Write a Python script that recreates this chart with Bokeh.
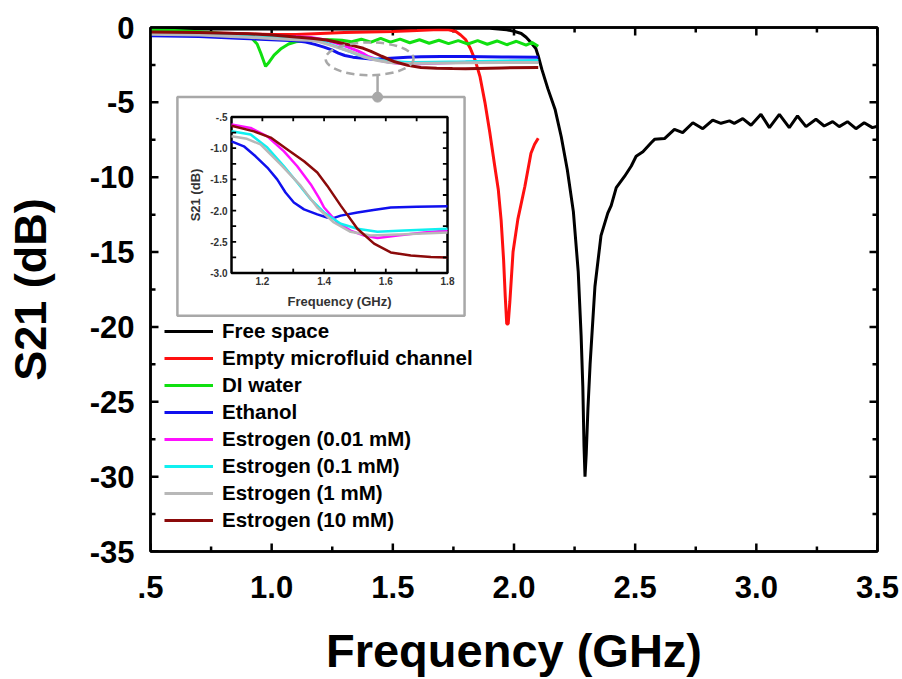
from math import pi
from bokeh.plotting import figure
from bokeh.models import (Range1d, SingleIntervalTicker, LinearAxis, Legend, LegendItem,
                          CustomJSTickFormatter)
from bokeh.embed import file_html
from bokeh.resources import INLINE
from bokeh.core.properties import value

FONT = "Liberation Sans"

# ---------------- data ----------------
series_names = ["Free space", "Empty microfluid channel", "DI water", "Ethanol",
                "Estrogen (0.01 mM)", "Estrogen (0.1 mM)", "Estrogen (1 mM)", "Estrogen (10 mM)"]
series_colors = ["#000000", "#ff1010", "#10e010", "#1010ee", "#ff10ff", "#10f0f0", "#b8b8b8", "#8b0a0a"]

free_f = [0.5, 0.8, 1.1, 1.4, 1.7, 1.9, 1.97, 2.0, 2.03, 2.05, 2.07, 2.09, 2.10, 2.115, 2.14, 2.17,
          2.195, 2.22, 2.245, 2.265, 2.277, 2.284, 2.289, 2.293, 2.298, 2.305, 2.314, 2.334, 2.359,
          2.387, 2.401, 2.422, 2.456, 2.484, 2.504, 2.532, 2.566, 2.58, 2.621, 2.662, 2.696, 2.738,
          2.779, 2.82, 2.854, 2.889, 2.909, 2.944, 2.978, 3.019, 3.054, 3.095, 3.136, 3.17, 3.205,
          3.246, 3.28, 3.315, 3.342, 3.376, 3.411, 3.445, 3.479, 3.5]
free_s = [-0.1, -0.1, -0.1, -0.1, -0.05, -0.05, -0.15, -0.25, -0.4, -0.65, -1.0, -1.4, -1.9, -2.8,
          -4.1, -5.5, -7.3, -9.5, -12.3, -16.3, -20.6, -24.0, -28.0, -30.0, -28.5, -25.5, -22.5,
          -17.3, -13.9, -12.4, -11.9, -10.7, -9.95, -9.25, -8.6, -8.3, -7.7, -7.47, -7.42, -6.8,
          -7.02, -6.36, -6.76, -6.18, -6.4, -6.24, -6.4, -6.09, -6.53, -5.8, -6.69, -5.8, -6.69,
          -5.91, -6.62, -6.13, -6.58, -6.29, -6.62, -6.29, -6.76, -6.36, -6.69, -6.6]

empty_f = [0.5, 0.7, 0.9, 1.0, 1.1, 1.2, 1.3, 1.4, 1.5, 1.6, 1.69, 1.73, 1.76, 1.78, 1.80, 1.82,
           1.84, 1.86, 1.88, 1.90, 1.92, 1.935, 1.947, 1.957, 1.964, 1.97, 1.976, 1.983, 1.996,
           2.016, 2.045, 2.07, 2.085, 2.10]
empty_s = [-0.3, -0.35, -0.42, -0.47, -0.47, -0.4, -0.33, -0.3, -0.27, -0.2, -0.13, -0.15, -0.27,
           -0.5, -0.8, -1.4, -2.2, -3.3, -5.0, -7.0, -9.2, -10.8, -12.9, -15.5, -18.0, -19.8,
           -19.8, -18.3, -15.0, -12.8, -10.6, -8.4, -7.8, -7.4]

water_f = [0.5, 0.6, 0.7, 0.8, 0.88, 0.92, 0.94, 0.955, 0.975, 0.99, 1.01, 1.04, 1.07, 1.1, 1.15,
           1.2, 1.25, 1.29, 1.33, 1.37, 1.41, 1.45, 1.49, 1.53, 1.57, 1.61, 1.65, 1.69, 1.73,
           1.77, 1.81, 1.85, 1.89, 1.93, 1.97, 2.01, 2.05, 2.075, 2.10]
water_s = [-0.15, -0.2, -0.28, -0.4, -0.55, -0.75, -1.1, -1.7, -2.6, -2.3, -1.85, -1.4, -1.1,
           -0.95, -0.85, -0.8, -0.82, -0.85, -0.95, -0.78, -0.98, -0.72, -0.98, -0.78, -1.02,
           -0.82, -1.05, -0.85, -1.08, -0.88, -1.1, -0.88, -1.12, -0.9, -1.15, -0.92, -1.18,
           -1.0, -1.25]

eth_f = [0.5, 0.7, 0.86, 1.0, 1.1, 1.14, 1.178, 1.216, 1.248, 1.275, 1.302, 1.335, 1.378, 1.41,
         1.43, 1.454, 1.508, 1.56, 1.616, 1.7, 1.8, 1.95, 2.1]
eth_s = [-0.55, -0.6, -0.72, -0.82, -0.89, -0.97, -1.13, -1.31, -1.5, -1.71, -1.87, -1.98, -2.06,
         -2.11, -2.12, -2.08, -2.03, -1.99, -1.95, -1.94, -1.93, -1.97, -1.98]

e001_f = [0.5, 0.7, 0.9, 1.0, 1.1, 1.162, 1.216, 1.27, 1.313, 1.357, 1.384, 1.4, 1.443, 1.486,
          1.53, 1.573, 1.638, 1.724, 1.8, 1.95, 2.1]
e001_s = [-0.35, -0.4, -0.5, -0.56, -0.62, -0.675, -0.81, -1.05, -1.29, -1.58, -1.8, -1.95, -2.19,
          -2.32, -2.4, -2.44, -2.4, -2.35, -2.32, -2.27, -2.22]

e01_f = [0.5, 0.7, 0.9, 1.0, 1.1, 1.162, 1.216, 1.27, 1.313, 1.357, 1.4, 1.454, 1.508, 1.573,
         1.66, 1.8, 1.95, 2.1]
e01_s = [-0.4, -0.45, -0.58, -0.65, -0.73, -0.78, -0.99, -1.29, -1.55, -1.82, -2.03, -2.21, -2.29,
         -2.34, -2.32, -2.29, -2.24, -2.2]

e1_f = [0.5, 0.7, 0.9, 1.0, 1.1, 1.15, 1.194, 1.259, 1.324, 1.378, 1.432, 1.486, 1.551, 1.66,
        1.8, 1.95, 2.1]
e1_s = [-0.45, -0.5, -0.65, -0.73, -0.81, -0.85, -0.94, -1.26, -1.6, -1.95, -2.19, -2.34, -2.4,
        -2.38, -2.35, -2.34, -2.34]

e10_f = [0.5, 0.7, 0.9, 1.0, 1.1, 1.173, 1.227, 1.281, 1.335, 1.378, 1.41, 1.454, 1.508, 1.562,
         1.616, 1.681, 1.746, 1.8, 1.95, 2.1]
e10_s = [-0.3, -0.33, -0.42, -0.5, -0.64, -0.73, -0.83, -1.02, -1.21, -1.39, -1.6, -1.92, -2.29,
         -2.53, -2.67, -2.72, -2.745, -2.75, -2.7, -2.68]

main_x_major = [0.5, 1.0, 1.5, 2.0, 2.5, 3.0, 3.5]
main_x_minor = [0.75, 1.25, 1.75, 2.25, 2.75, 3.25]
main_y_major = [0, -5, -10, -15, -20, -25, -30, -35]
main_y_minor = [-2.5, -7.5, -12.5, -17.5, -22.5, -27.5, -32.5]

inset_x_ticks = [1.2, 1.4, 1.6, 1.8]
inset_x_labels = ["1.2", "1.4", "1.6", "1.8"]
inset_y_ticks = [-0.5, -1.0, -1.5, -2.0, -2.5, -3.0]
inset_y_labels = ["-.5", "-1.0", "-1.5", "-2.0", "-2.5", "-3.0"]
inset_x_minor = [1.2, 1.3, 1.4, 1.5, 1.6, 1.7]
inset_y_minor = [-0.75, -1.0, -1.25, -1.5, -1.75, -2.0, -2.25, -2.5, -2.75]

all_f = [free_f, empty_f, water_f, eth_f, e001_f, e01_f, e1_f, e10_f]
all_s = [free_s, empty_s, water_s, eth_s, e001_s, e01_s, e1_s, e10_s]

# ---------------- main figure ----------------
X0, X1, Y0, Y1 = 0.5, 3.5, -35, 0
p = figure(width=902, height=679, x_range=Range1d(X0, X1), y_range=Range1d(Y0, Y1),
           output_backend="svg", toolbar_location=None,
           min_border_left=150, min_border_right=25, min_border_top=27, min_border_bottom=125)
p.xgrid.visible = False
p.ygrid.visible = False
p.outline_line_color = "black"
p.outline_line_width = 2.5
p.background_fill_color = "white"
p.border_fill_color = "white"

p.xaxis.ticker = SingleIntervalTicker(interval=0.5, num_minor_ticks=2)
p.yaxis.ticker = SingleIntervalTicker(interval=5, num_minor_ticks=2)
p.xaxis.formatter = CustomJSTickFormatter(
    code="const s = tick.toFixed(1); return s.startsWith('0') ? s.slice(1) : s;")
p.yaxis.formatter = CustomJSTickFormatter(code="return Math.round(tick).toString();")

for ax in (p.xaxis[0], p.yaxis[0]):
    ax.axis_line_width = 2.5
    ax.major_tick_in = 0
    ax.major_tick_out = 0
    ax.minor_tick_in = 0
    ax.minor_tick_out = 0
    ax.major_label_text_font = FONT
    ax.major_label_text_font_style = "bold"
    ax.major_label_text_font_size = "31px"
    ax.major_label_text_color = "black"
    ax.axis_label_text_font = FONT
    ax.axis_label_text_font_style = "bold"
    ax.axis_label_text_color = "black"

p.xaxis.axis_label = "Frequency (GHz)"
p.xaxis.axis_label_text_font_size = "47px"
p.xaxis.major_label_standoff = 24
p.xaxis.axis_label_standoff = 23
p.yaxis.axis_label = "S21 (dB)"
p.yaxis.axis_label_text_font_size = "45px"
p.yaxis.major_label_standoff = 16
p.yaxis.axis_label_standoff = 31

# mirrored frame edges (top and right), no labels
blank = CustomJSTickFormatter(code="return '';")
for place, interval in (("above", 0.5), ("right", 5)):
    ax = LinearAxis(ticker=SingleIntervalTicker(interval=interval, num_minor_ticks=2),
                    formatter=blank, axis_line_width=2.5, major_tick_in=0, major_tick_out=0,
                    minor_tick_in=0, minor_tick_out=0, major_label_text_font_size="1px",
                    major_label_standoff=0)
    p.add_layout(ax, place)

# inward frame ticks on all four sides
fw, fh = 727.0, 527.0
maj_dy = 8 * (Y1 - Y0) / fh
min_dy = 5 * (Y1 - Y0) / fh
maj_dx = 8 * (X1 - X0) / fw
min_dx = 5 * (X1 - X0) / fw
tick_kw = dict(line_color="black", line_width=2.5)
p.segment(x0=main_x_major, y0=[Y0] * 7, x1=main_x_major, y1=[Y0 + maj_dy] * 7, **tick_kw)
p.segment(x0=main_x_minor, y0=[Y0] * 6, x1=main_x_minor, y1=[Y0 + min_dy] * 6, **tick_kw)
p.segment(x0=main_x_major, y0=[Y1] * 7, x1=main_x_major, y1=[Y1 - maj_dy] * 7, **tick_kw)
p.segment(x0=main_x_minor, y0=[Y1] * 6, x1=main_x_minor, y1=[Y1 - min_dy] * 6, **tick_kw)
p.segment(x0=[X0] * 8, y0=main_y_major, x1=[X0 + maj_dx] * 8, y1=main_y_major, **tick_kw)
p.segment(x0=[X0] * 7, y0=main_y_minor, x1=[X0 + min_dx] * 7, y1=main_y_minor, **tick_kw)
p.segment(x0=[X1] * 8, y0=main_y_major, x1=[X1 - maj_dx] * 8, y1=main_y_major, **tick_kw)
p.segment(x0=[X1] * 7, y0=main_y_minor, x1=[X1 - min_dx] * 7, y1=main_y_minor, **tick_kw)

renderers = []
for f, s, c in zip(all_f, all_s, series_colors):
    r = p.line(f, s, line_color=c, line_width=3)
    renderers.append(r)

# highlight ellipse and connector
p.ellipse(x=[1.404], y=[-2.09], width=[0.363], height=[2.19], fill_color=None,
          line_color="#a8a8a8", line_width=2.5, line_dash="8 5")
p.segment(x0=[1.437], y0=[-3.19], x1=[1.437], y1=[-4.65], line_color="#a8a8a8", line_width=2.5)

# inset box
p.quad(left=[0.611], right=[1.796], bottom=[-19.26], top=[-4.65], fill_color="white",
       line_color="#a8a8a8", line_width=2.5)
p.scatter(x=[1.437], y=[-4.65], size=10, marker="circle", fill_color="#a8a8a8",
          line_color="#a8a8a8")

# ---------------- inset (sub-coordinates) ----------------
sub = p.subplot(x_source=Range1d(1.1, 1.8), y_source=Range1d(-3.0, -0.5),
                x_target=Range1d(0.8343, 1.7256), y_target=Range1d(-16.40, -5.977))

sub.quad(left=[1.1], right=[1.8], bottom=[-3.0], top=[-0.5], fill_color="white",
         line_color="black", line_width=2.5)

for f, s, c in list(zip(all_f, all_s, series_colors))[3:]:
    fi = [a for a in f if 1.1 <= a <= 1.8]
    si = [b for a, b in zip(f, s) if 1.1 <= a <= 1.8]
    sub.line(fi, si, line_color=c, line_width=2.5)

xt_len = 0.07
yt_len = 0.015
sub.segment(x0=inset_x_minor, y0=[-3.0] * len(inset_x_minor), x1=inset_x_minor,
            y1=[-3.0 + xt_len] * len(inset_x_minor), line_color="black", line_width=1.8)
sub.segment(x0=inset_x_minor, y0=[-0.5] * len(inset_x_minor), x1=inset_x_minor,
            y1=[-0.5 - xt_len] * len(inset_x_minor), line_color="black", line_width=1.8)
sub.segment(x0=[1.1] * len(inset_y_minor), y0=inset_y_minor, x1=[1.1 + yt_len] * len(inset_y_minor),
            y1=inset_y_minor, line_color="black", line_width=1.8)
sub.segment(x0=[1.8] * len(inset_y_minor), y0=inset_y_minor, x1=[1.8 - yt_len] * len(inset_y_minor),
            y1=inset_y_minor, line_color="black", line_width=1.8)

sub.text(x=[1.1] * len(inset_y_ticks), y=inset_y_ticks, text=inset_y_labels, x_offset=-4,
         text_align="right", text_baseline="middle", text_font=value(FONT),
         text_font_style="bold", text_font_size="10px", text_color="#333333")
sub.text(x=inset_x_ticks, y=[-3.0] * len(inset_x_ticks), text=inset_x_labels, y_offset=4,
         text_align="center", text_baseline="top", text_font=value(FONT),
         text_font_style="bold", text_font_size="10px", text_color="#333333")
sub.text(x=[1.45], y=[-3.0], text=["Frequency (GHz)"], y_offset=21, text_align="center",
         text_baseline="top", text_font=value(FONT), text_font_style="bold",
         text_font_size="13px", text_color="#333333")
sub.text(x=[1.1], y=[-1.75], text=["S21 (dB)"], x_offset=-36, angle=pi / 2,
         text_align="center", text_baseline="middle", text_font=value(FONT),
         text_font_style="bold", text_font_size="13px", text_color="#333333")

# ---------------- legend ----------------
legend = Legend(items=[LegendItem(label=n, renderers=[r]) for n, r in zip(series_names, renderers)],
                location=(14, 19), label_text_font=FONT, label_text_font_style="bold",
                label_text_font_size="20.5px", label_text_color="black",
                glyph_width=49, glyph_height=20, spacing=3, padding=0, margin=0,
                label_standoff=9, border_line_color=None, background_fill_alpha=0)
p.add_layout(legend)

open("out.html", "w").write(file_html(p, INLINE))
